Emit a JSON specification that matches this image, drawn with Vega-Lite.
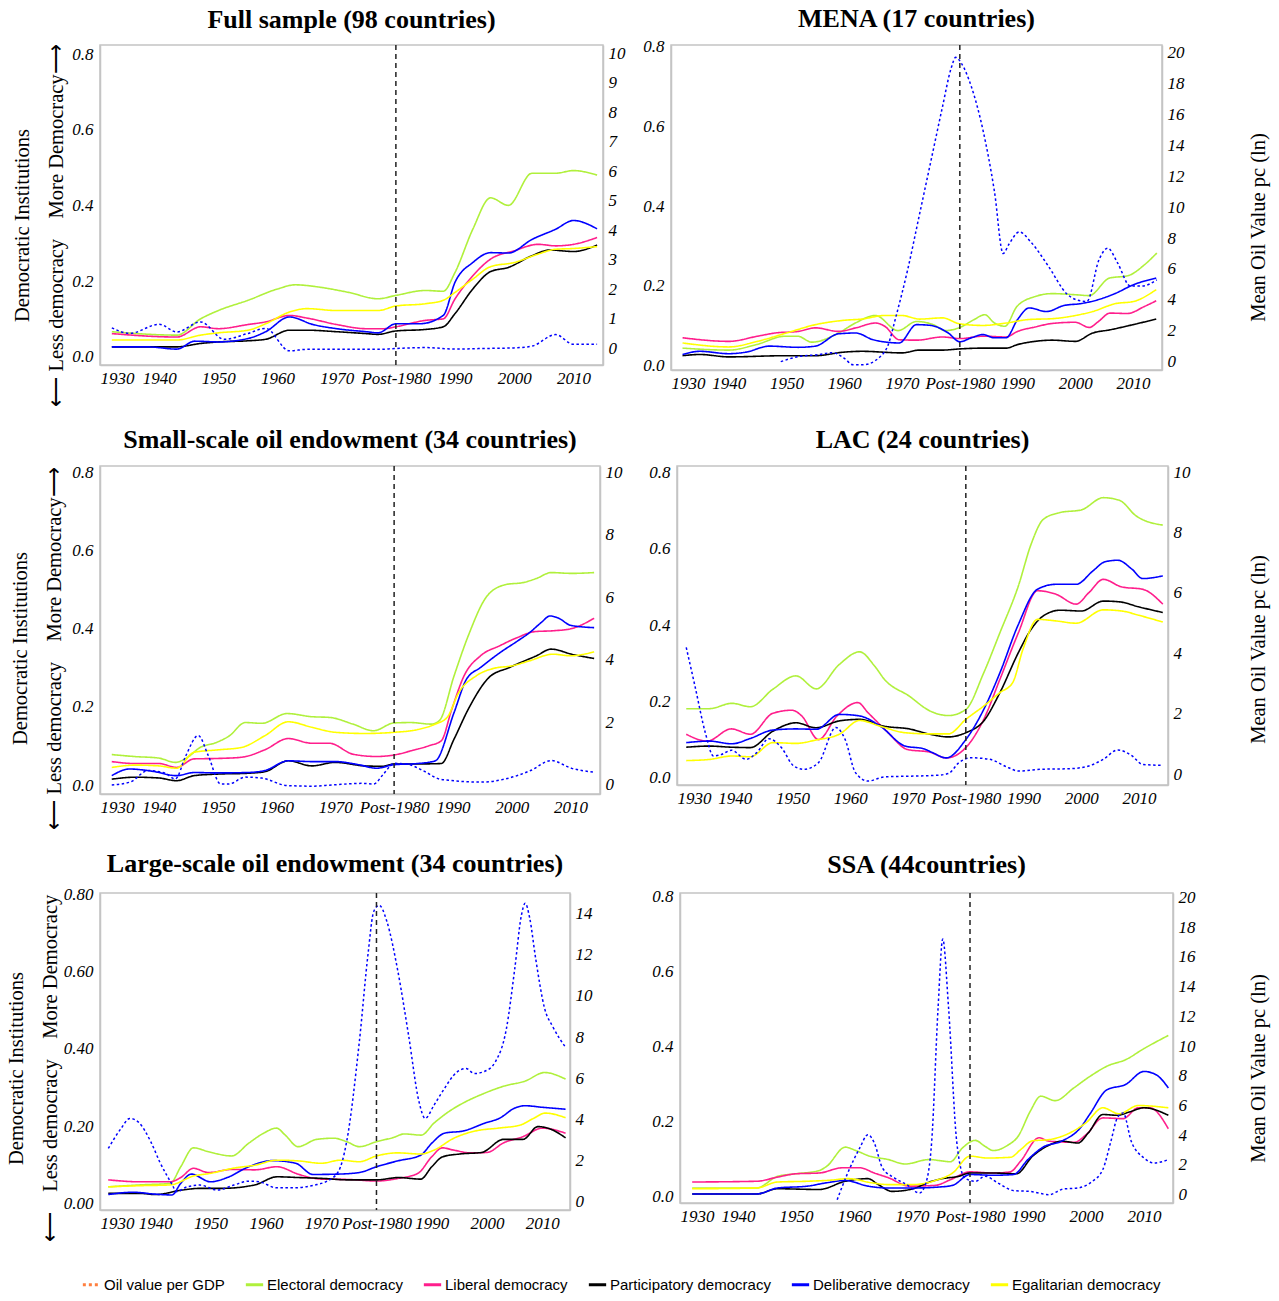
{
"$schema": "https://vega.github.io/schema/vega-lite/v6.json",
"padding": {"top": 5, "left": 5, "right": 5, "bottom": 0},
"background": "white",
"config": {
 "view": {"stroke": "#c4c4c4", "strokeWidth": 1.5},
 "axis": {"grid": false, "domainColor": "#c4c4c4", "domainWidth": 1.5, "ticks": false, "labelPadding": 7, "labelFont": "Liberation Serif", "labelFontStyle": "italic", "labelFontSize": 17, "labelColor": "#000", "titleFont": "Liberation Serif", "titleFontWeight": "normal", "titleFontSize": 20.5, "titleColor": "#000"},
 "title": {"font": "Liberation Serif", "fontSize": 26, "fontWeight": "bold", "color": "#000", "offset": 10, "frame": "group"},
 "legend": {"labelFont": "Liberation Sans Narrow, Arial Narrow, Liberation Sans, sans-serif", "labelFontSize": 15, "labelColor": "#000", "labelLimit": 0, "symbolType": "stroke", "symbolStrokeWidth": 3, "symbolSize": 300, "columnPadding": 14, "labelOffset": 2, "padding": 0}
},
"datasets": {
"full": [
{"s":"El","t":1932,"v":0.066},{"s":"El","t":1943,"v":0.057},{"s":"El","t":1947,"v":0.1},{"s":"El","t":1950,"v":0.122},{"s":"El","t":1955,"v":0.149},{"s":"El","t":1960,"v":0.179},{"s":"El","t":1963,"v":0.19},{"s":"El","t":1967,"v":0.184},{"s":"El","t":1972,"v":0.17},{"s":"El","t":1977,"v":0.153},{"s":"El","t":1980,"v":0.162},{"s":"El","t":1985,"v":0.175},{"s":"El","t":1988,"v":0.173},{"s":"El","t":1990,"v":0.223},{"s":"El","t":1993,"v":0.337},{"s":"El","t":1996,"v":0.42},{"s":"El","t":1999,"v":0.4},{"s":"El","t":2003,"v":0.485},{"s":"El","t":2007,"v":0.485},{"s":"El","t":2010,"v":0.492},{"s":"El","t":2014,"v":0.48},
{"s":"Li","t":1932,"v":0.061},{"s":"Li","t":1943,"v":0.052},{"s":"Li","t":1947,"v":0.079},{"s":"Li","t":1950,"v":0.074},{"s":"Li","t":1955,"v":0.085},{"s":"Li","t":1958,"v":0.092},{"s":"Li","t":1962,"v":0.109},{"s":"Li","t":1965,"v":0.102},{"s":"Li","t":1970,"v":0.085},{"s":"Li","t":1975,"v":0.074},{"s":"Li","t":1978,"v":0.074},{"s":"Li","t":1980,"v":0.079},{"s":"Li","t":1985,"v":0.096},{"s":"Li","t":1988,"v":0.1},{"s":"Li","t":1990,"v":0.153},{"s":"Li","t":1993,"v":0.214},{"s":"Li","t":1996,"v":0.258},{"s":"Li","t":2000,"v":0.28},{"s":"Li","t":2004,"v":0.297},{"s":"Li","t":2007,"v":0.293},{"s":"Li","t":2010,"v":0.297},{"s":"Li","t":2014,"v":0.315},
{"s":"Pa","t":1932,"v":0.026},{"s":"Pa","t":1943,"v":0.026},{"s":"Pa","t":1947,"v":0.035},{"s":"Pa","t":1950,"v":0.039},{"s":"Pa","t":1955,"v":0.042},{"s":"Pa","t":1958,"v":0.046},{"s":"Pa","t":1962,"v":0.07},{"s":"Pa","t":1965,"v":0.07},{"s":"Pa","t":1970,"v":0.066},{"s":"Pa","t":1975,"v":0.061},{"s":"Pa","t":1977,"v":0.059},{"s":"Pa","t":1980,"v":0.068},{"s":"Pa","t":1985,"v":0.072},{"s":"Pa","t":1988,"v":0.079},{"s":"Pa","t":1990,"v":0.114},{"s":"Pa","t":1993,"v":0.179},{"s":"Pa","t":1996,"v":0.225},{"s":"Pa","t":1999,"v":0.236},{"s":"Pa","t":2003,"v":0.267},{"s":"Pa","t":2006,"v":0.282},{"s":"Pa","t":2010,"v":0.278},{"s":"Pa","t":2014,"v":0.295},
{"s":"De","t":1932,"v":0.026},{"s":"De","t":1938,"v":0.026},{"s":"De","t":1943,"v":0.02},{"s":"De","t":1946,"v":0.041},{"s":"De","t":1950,"v":0.039},{"s":"De","t":1955,"v":0.048},{"s":"De","t":1958,"v":0.066},{"s":"De","t":1962,"v":0.105},{"s":"De","t":1966,"v":0.085},{"s":"De","t":1970,"v":0.074},{"s":"De","t":1975,"v":0.066},{"s":"De","t":1977,"v":0.063},{"s":"De","t":1980,"v":0.087},{"s":"De","t":1984,"v":0.087},{"s":"De","t":1988,"v":0.109},{"s":"De","t":1990,"v":0.197},{"s":"De","t":1993,"v":0.249},{"s":"De","t":1996,"v":0.275},{"s":"De","t":1999,"v":0.274},{"s":"De","t":2003,"v":0.31},{"s":"De","t":2007,"v":0.337},{"s":"De","t":2010,"v":0.36},{"s":"De","t":2014,"v":0.338},
{"s":"Eg","t":1932,"v":0.044},{"s":"Eg","t":1943,"v":0.044},{"s":"Eg","t":1947,"v":0.057},{"s":"Eg","t":1950,"v":0.063},{"s":"Eg","t":1955,"v":0.07},{"s":"Eg","t":1958,"v":0.087},{"s":"Eg","t":1962,"v":0.118},{"s":"Eg","t":1965,"v":0.127},{"s":"Eg","t":1970,"v":0.122},{"s":"Eg","t":1977,"v":0.122},{"s":"Eg","t":1980,"v":0.134},{"s":"Eg","t":1985,"v":0.14},{"s":"Eg","t":1988,"v":0.149},{"s":"Eg","t":1990,"v":0.17},{"s":"Eg","t":1993,"v":0.205},{"s":"Eg","t":1996,"v":0.238},{"s":"Eg","t":2000,"v":0.249},{"s":"Eg","t":2004,"v":0.271},{"s":"Eg","t":2007,"v":0.284},{"s":"Eg","t":2010,"v":0.286},{"s":"Eg","t":2014,"v":0.291},
{"s":"Oil","t":1932,"v":0.7},{"s":"Oil","t":1935,"v":0.51},{"s":"Oil","t":1940,"v":0.82},{"s":"Oil","t":1943,"v":0.56},{"s":"Oil","t":1947,"v":0.9},{"s":"Oil","t":1951,"v":0.31},{"s":"Oil","t":1955,"v":0.51},{"s":"Oil","t":1958,"v":0.68},{"s":"Oil","t":1962,"v":-0.08},{"s":"Oil","t":1965,"v":-0.03},{"s":"Oil","t":1970,"v":-0.03},{"s":"Oil","t":1977,"v":-0.03},{"s":"Oil","t":1980,"v":0.0},{"s":"Oil","t":1985,"v":0.03},{"s":"Oil","t":1990,"v":-0.02},{"s":"Oil","t":1995,"v":0.0},{"s":"Oil","t":2000,"v":0.02},{"s":"Oil","t":2003,"v":0.08},{"s":"Oil","t":2007,"v":0.47},{"s":"Oil","t":2010,"v":0.14},{"s":"Oil","t":2014,"v":0.14}
],
"mena": [
{"s":"El","t":1932,"v":0.043},{"s":"El","t":1940,"v":0.038},{"s":"El","t":1944.8,"v":0.052},{"s":"El","t":1949.8,"v":0.073},{"s":"El","t":1951.9,"v":0.073},{"s":"El","t":1954.4,"v":0.058},{"s":"El","t":1959,"v":0.081},{"s":"El","t":1961.9,"v":0.106},{"s":"El","t":1965.4,"v":0.125},{"s":"El","t":1969.3,"v":0.087},{"s":"El","t":1972.5,"v":0.11},{"s":"El","t":1975.4,"v":0.102},{"s":"El","t":1977.5,"v":0.087},{"s":"El","t":1980,"v":0.095},{"s":"El","t":1982.5,"v":0.115},{"s":"El","t":1984.3,"v":0.127},{"s":"El","t":1986,"v":0.106},{"s":"El","t":1987.8,"v":0.098},{"s":"El","t":1989.9,"v":0.148},{"s":"El","t":1993.1,"v":0.173},{"s":"El","t":1996,"v":0.18},{"s":"El","t":2000.2,"v":0.177},{"s":"El","t":2002.4,"v":0.175},{"s":"El","t":2005.9,"v":0.219},{"s":"El","t":2009.1,"v":0.225},{"s":"El","t":2012,"v":0.253},{"s":"El","t":2014.1,"v":0.282},
{"s":"Li","t":1932,"v":0.069},{"s":"Li","t":1940,"v":0.06},{"s":"Li","t":1945,"v":0.073},{"s":"Li","t":1948,"v":0.081},{"s":"Li","t":1952,"v":0.085},{"s":"Li","t":1955,"v":0.094},{"s":"Li","t":1959,"v":0.085},{"s":"Li","t":1962,"v":0.094},{"s":"Li","t":1965.4,"v":0.106},{"s":"Li","t":1967,"v":0.098},{"s":"Li","t":1969.5,"v":0.064},{"s":"Li","t":1972.5,"v":0.063},{"s":"Li","t":1977,"v":0.071},{"s":"Li","t":1980,"v":0.067},{"s":"Li","t":1984,"v":0.073},{"s":"Li","t":1988,"v":0.071},{"s":"Li","t":1990,"v":0.085},{"s":"Li","t":1993,"v":0.096},{"s":"Li","t":1996,"v":0.105},{"s":"Li","t":2000,"v":0.108},{"s":"Li","t":2002.4,"v":0.095},{"s":"Li","t":2004,"v":0.11},{"s":"Li","t":2006,"v":0.131},{"s":"Li","t":2009,"v":0.13},{"s":"Li","t":2012,"v":0.148},{"s":"Li","t":2014,"v":0.162},
{"s":"Pa","t":1932,"v":0.024},{"s":"Pa","t":1935,"v":0.027},{"s":"Pa","t":1940,"v":0.021},{"s":"Pa","t":1950,"v":0.024},{"s":"Pa","t":1955,"v":0.024},{"s":"Pa","t":1960,"v":0.033},{"s":"Pa","t":1963,"v":0.035},{"s":"Pa","t":1970,"v":0.031},{"s":"Pa","t":1973,"v":0.038},{"s":"Pa","t":1977,"v":0.038},{"s":"Pa","t":1980,"v":0.041},{"s":"Pa","t":1984,"v":0.043},{"s":"Pa","t":1988,"v":0.043},{"s":"Pa","t":1990,"v":0.052},{"s":"Pa","t":1993,"v":0.06},{"s":"Pa","t":1996,"v":0.063},{"s":"Pa","t":2000,"v":0.06},{"s":"Pa","t":2003,"v":0.081},{"s":"Pa","t":2006,"v":0.089},{"s":"Pa","t":2010,"v":0.102},{"s":"Pa","t":2014,"v":0.116},
{"s":"De","t":1932,"v":0.027},{"s":"De","t":1935,"v":0.035},{"s":"De","t":1940,"v":0.029},{"s":"De","t":1943,"v":0.033},{"s":"De","t":1947,"v":0.048},{"s":"De","t":1952,"v":0.045},{"s":"De","t":1955,"v":0.048},{"s":"De","t":1959,"v":0.079},{"s":"De","t":1962,"v":0.081},{"s":"De","t":1965,"v":0.064},{"s":"De","t":1969.5,"v":0.056},{"s":"De","t":1972.5,"v":0.102},{"s":"De","t":1975,"v":0.1},{"s":"De","t":1978,"v":0.081},{"s":"De","t":1980,"v":0.059},{"s":"De","t":1982,"v":0.069},{"s":"De","t":1984,"v":0.077},{"s":"De","t":1986,"v":0.069},{"s":"De","t":1988,"v":0.069},{"s":"De","t":1990,"v":0.115},{"s":"De","t":1992,"v":0.144},{"s":"De","t":1995,"v":0.135},{"s":"De","t":1998,"v":0.15},{"s":"De","t":2001,"v":0.155},{"s":"De","t":2004,"v":0.165},{"s":"De","t":2007,"v":0.181},{"s":"De","t":2010,"v":0.202},{"s":"De","t":2014,"v":0.219},
{"s":"Eg","t":1932,"v":0.056},{"s":"Eg","t":1940,"v":0.046},{"s":"Eg","t":1945,"v":0.06},{"s":"Eg","t":1950,"v":0.081},{"s":"Eg","t":1955,"v":0.102},{"s":"Eg","t":1960,"v":0.113},{"s":"Eg","t":1963,"v":0.116},{"s":"Eg","t":1967,"v":0.125},{"s":"Eg","t":1970,"v":0.125},{"s":"Eg","t":1973,"v":0.116},{"s":"Eg","t":1977,"v":0.119},{"s":"Eg","t":1980,"v":0.104},{"s":"Eg","t":1984,"v":0.1},{"s":"Eg","t":1988,"v":0.106},{"s":"Eg","t":1992,"v":0.115},{"s":"Eg","t":1996,"v":0.117},{"s":"Eg","t":2000,"v":0.125},{"s":"Eg","t":2003,"v":0.135},{"s":"Eg","t":2007,"v":0.155},{"s":"Eg","t":2010,"v":0.16},{"s":"Eg","t":2014,"v":0.19},
{"s":"Oil","t":1949,"v":0.0},{"s":"Oil","t":1952.7,"v":0.37},{"s":"Oil","t":1955,"v":0.43},{"s":"Oil","t":1958,"v":0.58},{"s":"Oil","t":1960,"v":0.22},{"s":"Oil","t":1961.5,"v":-0.2},{"s":"Oil","t":1963.3,"v":-0.2},{"s":"Oil","t":1966.2,"v":0.32},{"s":"Oil","t":1967.5,"v":1.0},{"s":"Oil","t":1969,"v":3.0},{"s":"Oil","t":1971,"v":6.0},{"s":"Oil","t":1973,"v":9.5},{"s":"Oil","t":1975,"v":13.0},{"s":"Oil","t":1977,"v":16.5},{"s":"Oil","t":1978.5,"v":19.0},{"s":"Oil","t":1979.3,"v":19.7},{"s":"Oil","t":1980.3,"v":19.3},{"s":"Oil","t":1982,"v":17.8},{"s":"Oil","t":1984,"v":15.0},{"s":"Oil","t":1986,"v":11.0},{"s":"Oil","t":1987.5,"v":7.0},{"s":"Oil","t":1988.5,"v":7.6},{"s":"Oil","t":1990.3,"v":8.4},{"s":"Oil","t":1992.4,"v":7.7},{"s":"Oil","t":1995.3,"v":6.2},{"s":"Oil","t":1998.5,"v":4.4},{"s":"Oil","t":2000.2,"v":4.0},{"s":"Oil","t":2002,"v":3.9},{"s":"Oil","t":2004.1,"v":6.6},{"s":"Oil","t":2005.6,"v":7.35},{"s":"Oil","t":2007.3,"v":6.4},{"s":"Oil","t":2009.5,"v":4.9},{"s":"Oil","t":2011.6,"v":4.9},{"s":"Oil","t":2014.1,"v":5.3}
],
"small": [
{"s":"El","t":1932,"v":0.078},{"s":"El","t":1935.8,"v":0.073},{"s":"El","t":1940,"v":0.069},{"s":"El","t":1942.8,"v":0.058},{"s":"El","t":1944.9,"v":0.071},{"s":"El","t":1947,"v":0.096},{"s":"El","t":1949.8,"v":0.109},{"s":"El","t":1952,"v":0.126},{"s":"El","t":1954.7,"v":0.16},{"s":"El","t":1957.5,"v":0.158},{"s":"El","t":1961.8,"v":0.183},{"s":"El","t":1966,"v":0.175},{"s":"El","t":1969.1,"v":0.173},{"s":"El","t":1973,"v":0.156},{"s":"El","t":1976.5,"v":0.139},{"s":"El","t":1980,"v":0.159},{"s":"El","t":1982.8,"v":0.16},{"s":"El","t":1986.3,"v":0.156},{"s":"El","t":1987.7,"v":0.165},{"s":"El","t":1990.2,"v":0.28},{"s":"El","t":1992.6,"v":0.382},{"s":"El","t":1995.8,"v":0.484},{"s":"El","t":1998.9,"v":0.513},{"s":"El","t":2002.1,"v":0.519},{"s":"El","t":2004.2,"v":0.529},{"s":"El","t":2006.7,"v":0.544},{"s":"El","t":2010.2,"v":0.542},{"s":"El","t":2014,"v":0.544},
{"s":"Li","t":1932,"v":0.06},{"s":"Li","t":1936,"v":0.055},{"s":"Li","t":1940,"v":0.055},{"s":"Li","t":1943,"v":0.045},{"s":"Li","t":1946,"v":0.067},{"s":"Li","t":1950,"v":0.068},{"s":"Li","t":1954,"v":0.071},{"s":"Li","t":1958,"v":0.09},{"s":"Li","t":1962,"v":0.119},{"s":"Li","t":1966,"v":0.107},{"s":"Li","t":1969,"v":0.107},{"s":"Li","t":1973,"v":0.079},{"s":"Li","t":1977,"v":0.073},{"s":"Li","t":1980,"v":0.077},{"s":"Li","t":1983,"v":0.088},{"s":"Li","t":1986,"v":0.101},{"s":"Li","t":1988,"v":0.113},{"s":"Li","t":1989.8,"v":0.194},{"s":"Li","t":1991.9,"v":0.28},{"s":"Li","t":1994.7,"v":0.331},{"s":"Li","t":1998,"v":0.357},{"s":"Li","t":2001,"v":0.378},{"s":"Li","t":2004,"v":0.393},{"s":"Li","t":2007,"v":0.395},{"s":"Li","t":2010,"v":0.4},{"s":"Li","t":2014,"v":0.427},
{"s":"Pa","t":1932,"v":0.015},{"s":"Pa","t":1936,"v":0.02},{"s":"Pa","t":1940,"v":0.018},{"s":"Pa","t":1943,"v":0.011},{"s":"Pa","t":1946,"v":0.024},{"s":"Pa","t":1950,"v":0.028},{"s":"Pa","t":1955,"v":0.03},{"s":"Pa","t":1958,"v":0.034},{"s":"Pa","t":1962,"v":0.062},{"s":"Pa","t":1966,"v":0.049},{"s":"Pa","t":1970,"v":0.058},{"s":"Pa","t":1975,"v":0.049},{"s":"Pa","t":1978,"v":0.048},{"s":"Pa","t":1980,"v":0.054},{"s":"Pa","t":1984,"v":0.054},{"s":"Pa","t":1988,"v":0.055},{"s":"Pa","t":1990.2,"v":0.118},{"s":"Pa","t":1992.6,"v":0.194},{"s":"Pa","t":1996.1,"v":0.275},{"s":"Pa","t":1999.6,"v":0.301},{"s":"Pa","t":2004.2,"v":0.331},{"s":"Pa","t":2006.7,"v":0.348},{"s":"Pa","t":2010.2,"v":0.335},{"s":"Pa","t":2014,"v":0.324},
{"s":"De","t":1932,"v":0.024},{"s":"De","t":1935,"v":0.041},{"s":"De","t":1939,"v":0.035},{"s":"De","t":1943,"v":0.024},{"s":"De","t":1946,"v":0.032},{"s":"De","t":1950,"v":0.031},{"s":"De","t":1955,"v":0.032},{"s":"De","t":1958,"v":0.037},{"s":"De","t":1962,"v":0.062},{"s":"De","t":1966,"v":0.06},{"s":"De","t":1970,"v":0.06},{"s":"De","t":1974,"v":0.052},{"s":"De","t":1977,"v":0.043},{"s":"De","t":1980,"v":0.052},{"s":"De","t":1984,"v":0.055},{"s":"De","t":1987,"v":0.062},{"s":"De","t":1990.2,"v":0.186},{"s":"De","t":1992.3,"v":0.271},{"s":"De","t":1994.7,"v":0.301},{"s":"De","t":1998,"v":0.339},{"s":"De","t":2001,"v":0.369},{"s":"De","t":2003,"v":0.39},{"s":"De","t":2005,"v":0.416},{"s":"De","t":2006.5,"v":0.433},{"s":"De","t":2008,"v":0.427},{"s":"De","t":2010,"v":0.409},{"s":"De","t":2014,"v":0.403},
{"s":"Eg","t":1932,"v":0.045},{"s":"Eg","t":1936,"v":0.051},{"s":"Eg","t":1940,"v":0.049},{"s":"Eg","t":1943,"v":0.043},{"s":"Eg","t":1946,"v":0.084},{"s":"Eg","t":1950,"v":0.09},{"s":"Eg","t":1954,"v":0.096},{"s":"Eg","t":1958,"v":0.126},{"s":"Eg","t":1962,"v":0.162},{"s":"Eg","t":1966,"v":0.148},{"s":"Eg","t":1970,"v":0.135},{"s":"Eg","t":1975,"v":0.132},{"s":"Eg","t":1980,"v":0.135},{"s":"Eg","t":1984,"v":0.142},{"s":"Eg","t":1987,"v":0.156},{"s":"Eg","t":1989,"v":0.173},{"s":"Eg","t":1991,"v":0.237},{"s":"Eg","t":1994,"v":0.28},{"s":"Eg","t":1997,"v":0.299},{"s":"Eg","t":2000,"v":0.305},{"s":"Eg","t":2003,"v":0.318},{"s":"Eg","t":2007,"v":0.335},{"s":"Eg","t":2010,"v":0.331},{"s":"Eg","t":2014,"v":0.341},
{"s":"Oil","t":1932,"v":0.0},{"s":"Oil","t":1935.1,"v":0.09},{"s":"Oil","t":1938.2,"v":0.46},{"s":"Oil","t":1941.1,"v":0.37},{"s":"Oil","t":1942.8,"v":0.19},{"s":"Oil","t":1944.6,"v":0.94},{"s":"Oil","t":1946.7,"v":1.58},{"s":"Oil","t":1948.4,"v":0.94},{"s":"Oil","t":1950.5,"v":0.03},{"s":"Oil","t":1951.9,"v":0.03},{"s":"Oil","t":1954.7,"v":0.25},{"s":"Oil","t":1957.5,"v":0.22},{"s":"Oil","t":1961.8,"v":-0.02},{"s":"Oil","t":1966,"v":-0.04},{"s":"Oil","t":1969.5,"v":0.0},{"s":"Oil","t":1974.4,"v":0.05},{"s":"Oil","t":1976.5,"v":0.03},{"s":"Oil","t":1978.2,"v":0.35},{"s":"Oil","t":1980,"v":0.69},{"s":"Oil","t":1982.1,"v":0.67},{"s":"Oil","t":1984.9,"v":0.46},{"s":"Oil","t":1987.7,"v":0.19},{"s":"Oil","t":1989.8,"v":0.14},{"s":"Oil","t":1994.7,"v":0.09},{"s":"Oil","t":1998.9,"v":0.19},{"s":"Oil","t":2003.2,"v":0.46},{"s":"Oil","t":2006.7,"v":0.78},{"s":"Oil","t":2010.2,"v":0.53},{"s":"Oil","t":2014,"v":0.41}
],
"lac": [
{"s":"El","t":1931.6,"v":0.181},{"s":"El","t":1935.6,"v":0.181},{"s":"El","t":1939.5,"v":0.195},{"s":"El","t":1942.7,"v":0.186},{"s":"El","t":1946.6,"v":0.232},{"s":"El","t":1950.6,"v":0.267},{"s":"El","t":1954.1,"v":0.233},{"s":"El","t":1958.1,"v":0.297},{"s":"El","t":1961.6,"v":0.33},{"s":"El","t":1964.2,"v":0.293},{"s":"El","t":1965.9,"v":0.258},{"s":"El","t":1970.2,"v":0.214},{"s":"El","t":1973.8,"v":0.175},{"s":"El","t":1977,"v":0.163},{"s":"El","t":1980,"v":0.179},{"s":"El","t":1983.1,"v":0.275},{"s":"El","t":1985.9,"v":0.38},{"s":"El","t":1989.1,"v":0.503},{"s":"El","t":1991.3,"v":0.612},{"s":"El","t":1993.4,"v":0.677},{"s":"El","t":1996.3,"v":0.695},{"s":"El","t":2000,"v":0.702},{"s":"El","t":2003.8,"v":0.734},{"s":"El","t":2006.6,"v":0.727},{"s":"El","t":2009.5,"v":0.686},{"s":"El","t":2014.1,"v":0.662},
{"s":"Li","t":1931.6,"v":0.114},{"s":"Li","t":1935.2,"v":0.096},{"s":"Li","t":1939.4,"v":0.128},{"s":"Li","t":1942.7,"v":0.114},{"s":"Li","t":1946.6,"v":0.169},{"s":"Li","t":1949.9,"v":0.177},{"s":"Li","t":1951.6,"v":0.162},{"s":"Li","t":1954.5,"v":0.1},{"s":"Li","t":1957.7,"v":0.162},{"s":"Li","t":1961.3,"v":0.197},{"s":"Li","t":1963.1,"v":0.17},{"s":"Li","t":1966.3,"v":0.122},{"s":"Li","t":1969.9,"v":0.074},{"s":"Li","t":1973.8,"v":0.067},{"s":"Li","t":1976.6,"v":0.052},{"s":"Li","t":1980,"v":0.079},{"s":"Li","t":1983.1,"v":0.153},{"s":"Li","t":1985.9,"v":0.258},{"s":"Li","t":1989.1,"v":0.38},{"s":"Li","t":1992.4,"v":0.49},{"s":"Li","t":1995.6,"v":0.481},{"s":"Li","t":1999.1,"v":0.455},{"s":"Li","t":2001.3,"v":0.485},{"s":"Li","t":2003.8,"v":0.52},{"s":"Li","t":2007,"v":0.5},{"s":"Li","t":2010.6,"v":0.494},{"s":"Li","t":2014.1,"v":0.455},
{"s":"Pa","t":1931.6,"v":0.08},{"s":"Pa","t":1935.6,"v":0.083},{"s":"Pa","t":1939.5,"v":0.08},{"s":"Pa","t":1942.7,"v":0.079},{"s":"Pa","t":1946.6,"v":0.122},{"s":"Pa","t":1950.6,"v":0.144},{"s":"Pa","t":1954.1,"v":0.131},{"s":"Pa","t":1958.1,"v":0.149},{"s":"Pa","t":1961.6,"v":0.153},{"s":"Pa","t":1965.9,"v":0.135},{"s":"Pa","t":1970.2,"v":0.128},{"s":"Pa","t":1973.8,"v":0.114},{"s":"Pa","t":1977,"v":0.107},{"s":"Pa","t":1980,"v":0.118},{"s":"Pa","t":1983.1,"v":0.149},{"s":"Pa","t":1985.9,"v":0.223},{"s":"Pa","t":1989.1,"v":0.328},{"s":"Pa","t":1991.3,"v":0.389},{"s":"Pa","t":1993.4,"v":0.424},{"s":"Pa","t":1996.3,"v":0.439},{"s":"Pa","t":2000,"v":0.437},{"s":"Pa","t":2003.8,"v":0.463},{"s":"Pa","t":2006.6,"v":0.461},{"s":"Pa","t":2009.9,"v":0.448},{"s":"Pa","t":2014.1,"v":0.433},
{"s":"De","t":1931.6,"v":0.092},{"s":"De","t":1935.6,"v":0.096},{"s":"De","t":1939.5,"v":0.089},{"s":"De","t":1942.7,"v":0.103},{"s":"De","t":1946.6,"v":0.125},{"s":"De","t":1950.6,"v":0.128},{"s":"De","t":1954.1,"v":0.127},{"s":"De","t":1958.1,"v":0.166},{"s":"De","t":1961.6,"v":0.162},{"s":"De","t":1965.2,"v":0.135},{"s":"De","t":1969.5,"v":0.083},{"s":"De","t":1972.7,"v":0.076},{"s":"De","t":1974.2,"v":0.066},{"s":"De","t":1976.6,"v":0.052},{"s":"De","t":1980,"v":0.1},{"s":"De","t":1983.1,"v":0.179},{"s":"De","t":1985.9,"v":0.275},{"s":"De","t":1989.1,"v":0.402},{"s":"De","t":1992.4,"v":0.494},{"s":"De","t":1995.6,"v":0.507},{"s":"De","t":1999.1,"v":0.507},{"s":"De","t":2002,"v":0.542},{"s":"De","t":2004.1,"v":0.566},{"s":"De","t":2006.3,"v":0.57},{"s":"De","t":2008.8,"v":0.546},{"s":"De","t":2010.6,"v":0.522},{"s":"De","t":2014.1,"v":0.529},
{"s":"Eg","t":1931.6,"v":0.045},{"s":"Eg","t":1935.6,"v":0.048},{"s":"Eg","t":1939.5,"v":0.057},{"s":"Eg","t":1942.7,"v":0.055},{"s":"Eg","t":1946.6,"v":0.092},{"s":"Eg","t":1950.6,"v":0.09},{"s":"Eg","t":1954.1,"v":0.099},{"s":"Eg","t":1958.1,"v":0.114},{"s":"Eg","t":1961.6,"v":0.15},{"s":"Eg","t":1965.2,"v":0.135},{"s":"Eg","t":1969.5,"v":0.118},{"s":"Eg","t":1973.8,"v":0.115},{"s":"Eg","t":1977,"v":0.115},{"s":"Eg","t":1980,"v":0.153},{"s":"Eg","t":1983.1,"v":0.188},{"s":"Eg","t":1985.9,"v":0.223},{"s":"Eg","t":1988.1,"v":0.249},{"s":"Eg","t":1989.9,"v":0.337},{"s":"Eg","t":1992.4,"v":0.415},{"s":"Eg","t":1995.6,"v":0.411},{"s":"Eg","t":1999.1,"v":0.405},{"s":"Eg","t":2003.8,"v":0.44},{"s":"Eg","t":2007,"v":0.437},{"s":"Eg","t":2009.9,"v":0.426},{"s":"Eg","t":2014.1,"v":0.408},
{"s":"Oil","t":1931.6,"v":4.2},{"s":"Oil","t":1933.1,"v":2.93},{"s":"Oil","t":1934.9,"v":1.38},{"s":"Oil","t":1936.3,"v":0.61},{"s":"Oil","t":1937.7,"v":0.66},{"s":"Oil","t":1939.4,"v":0.8},{"s":"Oil","t":1942,"v":0.5},{"s":"Oil","t":1943.8,"v":0.72},{"s":"Oil","t":1945.9,"v":1.18},{"s":"Oil","t":1948.1,"v":0.88},{"s":"Oil","t":1950.2,"v":0.28},{"s":"Oil","t":1952,"v":0.17},{"s":"Oil","t":1954.5,"v":0.39},{"s":"Oil","t":1957.5,"v":1.55},{"s":"Oil","t":1959.1,"v":1.16},{"s":"Oil","t":1960.9,"v":0.06},{"s":"Oil","t":1963.1,"v":-0.22},{"s":"Oil","t":1965.9,"v":-0.08},{"s":"Oil","t":1969.9,"v":-0.06},{"s":"Oil","t":1974.9,"v":-0.03},{"s":"Oil","t":1977,"v":0.03},{"s":"Oil","t":1978.8,"v":0.39},{"s":"Oil","t":1980.9,"v":0.55},{"s":"Oil","t":1984.1,"v":0.5},{"s":"Oil","t":1987.4,"v":0.22},{"s":"Oil","t":1989.1,"v":0.11},{"s":"Oil","t":1993.1,"v":0.17},{"s":"Oil","t":1998.1,"v":0.19},{"s":"Oil","t":2001.3,"v":0.28},{"s":"Oil","t":2003.8,"v":0.5},{"s":"Oil","t":2006.3,"v":0.81},{"s":"Oil","t":2008.8,"v":0.61},{"s":"Oil","t":2010.6,"v":0.33},{"s":"Oil","t":2014.1,"v":0.3}
],
"large": [
{"s":"El","t":1931.5,"v":0.043},{"s":"El","t":1937.3,"v":0.048},{"s":"El","t":1942.7,"v":0.052},{"s":"El","t":1944.6,"v":0.095},{"s":"El","t":1946.9,"v":0.144},{"s":"El","t":1949.6,"v":0.134},{"s":"El","t":1953.8,"v":0.123},{"s":"El","t":1956.9,"v":0.156},{"s":"El","t":1959.6,"v":0.182},{"s":"El","t":1961.9,"v":0.195},{"s":"El","t":1963.5,"v":0.177},{"s":"El","t":1965.8,"v":0.147},{"s":"El","t":1969.2,"v":0.166},{"s":"El","t":1972.3,"v":0.169},{"s":"El","t":1974.6,"v":0.16},{"s":"El","t":1976.9,"v":0.147},{"s":"El","t":1980,"v":0.16},{"s":"El","t":1983.1,"v":0.171},{"s":"El","t":1985,"v":0.18},{"s":"El","t":1988.1,"v":0.177},{"s":"El","t":1990.4,"v":0.208},{"s":"El","t":1993.1,"v":0.238},{"s":"El","t":1995.8,"v":0.261},{"s":"El","t":1998.8,"v":0.281},{"s":"El","t":2003.1,"v":0.304},{"s":"El","t":2006.9,"v":0.317},{"s":"El","t":2010.4,"v":0.339},{"s":"El","t":2014.2,"v":0.322},
{"s":"Li","t":1931.5,"v":0.061},{"s":"Li","t":1937.3,"v":0.056},{"s":"Li","t":1942.7,"v":0.056},{"s":"Li","t":1944.6,"v":0.067},{"s":"Li","t":1946.9,"v":0.091},{"s":"Li","t":1949.6,"v":0.08},{"s":"Li","t":1953.8,"v":0.088},{"s":"Li","t":1958,"v":0.087},{"s":"Li","t":1962,"v":0.095},{"s":"Li","t":1966,"v":0.075},{"s":"Li","t":1970,"v":0.063},{"s":"Li","t":1975,"v":0.062},{"s":"Li","t":1980,"v":0.058},{"s":"Li","t":1984,"v":0.065},{"s":"Li","t":1987.5,"v":0.078},{"s":"Li","t":1990,"v":0.121},{"s":"Li","t":1991.9,"v":0.144},{"s":"Li","t":1994,"v":0.138},{"s":"Li","t":1997,"v":0.131},{"s":"Li","t":2000,"v":0.132},{"s":"Li","t":2003,"v":0.157},{"s":"Li","t":2006.5,"v":0.173},{"s":"Li","t":2010,"v":0.195},{"s":"Li","t":2014.2,"v":0.182},
{"s":"Pa","t":1931.5,"v":0.026},{"s":"Pa","t":1937.3,"v":0.026},{"s":"Pa","t":1940,"v":0.023},{"s":"Pa","t":1945,"v":0.035},{"s":"Pa","t":1948,"v":0.039},{"s":"Pa","t":1952,"v":0.039},{"s":"Pa","t":1958,"v":0.048},{"s":"Pa","t":1962,"v":0.069},{"s":"Pa","t":1966,"v":0.067},{"s":"Pa","t":1970,"v":0.065},{"s":"Pa","t":1975,"v":0.061},{"s":"Pa","t":1980,"v":0.061},{"s":"Pa","t":1984,"v":0.067},{"s":"Pa","t":1988,"v":0.063},{"s":"Pa","t":1990,"v":0.095},{"s":"Pa","t":1992,"v":0.121},{"s":"Pa","t":1995,"v":0.128},{"s":"Pa","t":1999,"v":0.132},{"s":"Pa","t":2003,"v":0.166},{"s":"Pa","t":2006.5,"v":0.166},{"s":"Pa","t":2009.2,"v":0.199},{"s":"Pa","t":2011,"v":0.195},{"s":"Pa","t":2014.2,"v":0.17},
{"s":"De","t":1931.5,"v":0.023},{"s":"De","t":1936,"v":0.029},{"s":"De","t":1940,"v":0.024},{"s":"De","t":1943,"v":0.022},{"s":"De","t":1944.6,"v":0.052},{"s":"De","t":1946.5,"v":0.076},{"s":"De","t":1950,"v":0.056},{"s":"De","t":1953,"v":0.067},{"s":"De","t":1956.9,"v":0.095},{"s":"De","t":1961.2,"v":0.111},{"s":"De","t":1965.4,"v":0.104},{"s":"De","t":1968.5,"v":0.075},{"s":"De","t":1973.1,"v":0.076},{"s":"De","t":1976.9,"v":0.08},{"s":"De","t":1980,"v":0.095},{"s":"De","t":1983.8,"v":0.11},{"s":"De","t":1988,"v":0.125},{"s":"De","t":1990,"v":0.156},{"s":"De","t":1992.3,"v":0.182},{"s":"De","t":1995.8,"v":0.188},{"s":"De","t":1999.6,"v":0.208},{"s":"De","t":2002.3,"v":0.221},{"s":"De","t":2005,"v":0.247},{"s":"De","t":2006.9,"v":0.253},{"s":"De","t":2010,"v":0.249},{"s":"De","t":2014.2,"v":0.244},
{"s":"Eg","t":1931.5,"v":0.043},{"s":"Eg","t":1937.3,"v":0.046},{"s":"Eg","t":1942.7,"v":0.048},{"s":"Eg","t":1946.9,"v":0.071},{"s":"Eg","t":1950,"v":0.078},{"s":"Eg","t":1954,"v":0.091},{"s":"Eg","t":1958,"v":0.099},{"s":"Eg","t":1962,"v":0.112},{"s":"Eg","t":1966,"v":0.11},{"s":"Eg","t":1970,"v":0.104},{"s":"Eg","t":1973.5,"v":0.112},{"s":"Eg","t":1976.9,"v":0.108},{"s":"Eg","t":1980,"v":0.123},{"s":"Eg","t":1983.8,"v":0.131},{"s":"Eg","t":1988,"v":0.128},{"s":"Eg","t":1990.4,"v":0.138},{"s":"Eg","t":1994,"v":0.169},{"s":"Eg","t":1998,"v":0.188},{"s":"Eg","t":2002,"v":0.195},{"s":"Eg","t":2006,"v":0.203},{"s":"Eg","t":2008.5,"v":0.221},{"s":"Eg","t":2010.5,"v":0.234},{"s":"Eg","t":2014.2,"v":0.222},
{"s":"Oil","t":1931.5,"v":2.59},{"s":"Oil","t":1933.8,"v":3.56},{"s":"Oil","t":1935.4,"v":4.05},{"s":"Oil","t":1936.9,"v":3.88},{"s":"Oil","t":1939.2,"v":2.91},{"s":"Oil","t":1940.8,"v":1.94},{"s":"Oil","t":1943.1,"v":0.81},{"s":"Oil","t":1943.8,"v":0.49},{"s":"Oil","t":1945.8,"v":0.73},{"s":"Oil","t":1948.1,"v":0.81},{"s":"Oil","t":1951.2,"v":0.57},{"s":"Oil","t":1954.2,"v":0.81},{"s":"Oil","t":1956.9,"v":1.0},{"s":"Oil","t":1958.8,"v":0.97},{"s":"Oil","t":1961.9,"v":0.68},{"s":"Oil","t":1965,"v":0.68},{"s":"Oil","t":1968.8,"v":0.81},{"s":"Oil","t":1970.8,"v":0.97},{"s":"Oil","t":1973.1,"v":1.46},{"s":"Oil","t":1974.6,"v":2.91},{"s":"Oil","t":1976.9,"v":7.77},{"s":"Oil","t":1978.5,"v":12.1},{"s":"Oil","t":1979.5,"v":14.1},{"s":"Oil","t":1980.5,"v":14.4},{"s":"Oil","t":1981.9,"v":13.6},{"s":"Oil","t":1983.8,"v":11.3},{"s":"Oil","t":1985.8,"v":8.1},{"s":"Oil","t":1987.7,"v":4.85},{"s":"Oil","t":1988.8,"v":4.05},{"s":"Oil","t":1990.4,"v":4.69},{"s":"Oil","t":1991.9,"v":5.34},{"s":"Oil","t":1994.6,"v":6.31},{"s":"Oil","t":1996.2,"v":6.47},{"s":"Oil","t":1997.7,"v":6.23},{"s":"Oil","t":1999.6,"v":6.34},{"s":"Oil","t":2001.5,"v":6.8},{"s":"Oil","t":2003.5,"v":8.41},{"s":"Oil","t":2005,"v":11.3},{"s":"Oil","t":2006.2,"v":13.9},{"s":"Oil","t":2006.9,"v":14.5},{"s":"Oil","t":2007.7,"v":13.8},{"s":"Oil","t":2008.8,"v":11.8},{"s":"Oil","t":2010.4,"v":9.4},{"s":"Oil","t":2011.9,"v":8.5},{"s":"Oil","t":2014.2,"v":7.5}
],
"ssa": [
{"s":"El","t":1932.1,"v":0.022},{"s":"El","t":1943.2,"v":0.022},{"s":"El","t":1946.8,"v":0.053},{"s":"El","t":1950,"v":0.06},{"s":"El","t":1953.9,"v":0.068},{"s":"El","t":1955.3,"v":0.08},{"s":"El","t":1958.5,"v":0.131},{"s":"El","t":1960.3,"v":0.122},{"s":"El","t":1962.7,"v":0.107},{"s":"El","t":1965.9,"v":0.098},{"s":"El","t":1968.8,"v":0.086},{"s":"El","t":1973,"v":0.098},{"s":"El","t":1974.8,"v":0.095},{"s":"El","t":1976.6,"v":0.092},{"s":"El","t":1978.7,"v":0.129},{"s":"El","t":1980.9,"v":0.149},{"s":"El","t":1982.6,"v":0.133},{"s":"El","t":1984,"v":0.122},{"s":"El","t":1986.5,"v":0.136},{"s":"El","t":1988.3,"v":0.16},{"s":"El","t":1990.4,"v":0.227},{"s":"El","t":1992.2,"v":0.267},{"s":"El","t":1994.7,"v":0.255},{"s":"El","t":1997.9,"v":0.289},{"s":"El","t":2000.7,"v":0.32},{"s":"El","t":2003.9,"v":0.349},{"s":"El","t":2006.8,"v":0.364},{"s":"El","t":2010,"v":0.394},{"s":"El","t":2014.2,"v":0.429},
{"s":"Li","t":1932.1,"v":0.038},{"s":"Li","t":1943.2,"v":0.04},{"s":"Li","t":1946.8,"v":0.051},{"s":"Li","t":1950,"v":0.06},{"s":"Li","t":1954,"v":0.062},{"s":"Li","t":1958,"v":0.076},{"s":"Li","t":1961,"v":0.076},{"s":"Li","t":1963.5,"v":0.062},{"s":"Li","t":1966,"v":0.049},{"s":"Li","t":1969.5,"v":0.027},{"s":"Li","t":1974,"v":0.029},{"s":"Li","t":1976.6,"v":0.044},{"s":"Li","t":1980,"v":0.065},{"s":"Li","t":1984,"v":0.062},{"s":"Li","t":1986.9,"v":0.065},{"s":"Li","t":1988.7,"v":0.093},{"s":"Li","t":1991.9,"v":0.156},{"s":"Li","t":1993.6,"v":0.147},{"s":"Li","t":1998,"v":0.144},{"s":"Li","t":2000,"v":0.164},{"s":"Li","t":2002.9,"v":0.209},{"s":"Li","t":2006.4,"v":0.207},{"s":"Li","t":2009,"v":0.236},{"s":"Li","t":2011,"v":0.236},{"s":"Li","t":2014.2,"v":0.18},
{"s":"Pa","t":1932.1,"v":0.006},{"s":"Pa","t":1943.2,"v":0.006},{"s":"Pa","t":1946.8,"v":0.02},{"s":"Pa","t":1954,"v":0.018},{"s":"Pa","t":1958.5,"v":0.04},{"s":"Pa","t":1962.4,"v":0.047},{"s":"Pa","t":1964.2,"v":0.031},{"s":"Pa","t":1966.6,"v":0.013},{"s":"Pa","t":1970.2,"v":0.02},{"s":"Pa","t":1973,"v":0.038},{"s":"Pa","t":1975.2,"v":0.047},{"s":"Pa","t":1978,"v":0.053},{"s":"Pa","t":1980,"v":0.062},{"s":"Pa","t":1984,"v":0.062},{"s":"Pa","t":1988,"v":0.06},{"s":"Pa","t":1990.8,"v":0.107},{"s":"Pa","t":1993.6,"v":0.136},{"s":"Pa","t":1995.8,"v":0.147},{"s":"Pa","t":1998.6,"v":0.142},{"s":"Pa","t":2000.4,"v":0.169},{"s":"Pa","t":2002.9,"v":0.218},{"s":"Pa","t":2005.4,"v":0.216},{"s":"Pa","t":2007.5,"v":0.225},{"s":"Pa","t":2010,"v":0.236},{"s":"Pa","t":2014.2,"v":0.216},
{"s":"De","t":1932.1,"v":0.006},{"s":"De","t":1943.2,"v":0.006},{"s":"De","t":1946.8,"v":0.022},{"s":"De","t":1952,"v":0.027},{"s":"De","t":1955.3,"v":0.036},{"s":"De","t":1958.5,"v":0.042},{"s":"De","t":1962.4,"v":0.027},{"s":"De","t":1966,"v":0.022},{"s":"De","t":1970,"v":0.022},{"s":"De","t":1975,"v":0.025},{"s":"De","t":1977,"v":0.029},{"s":"De","t":1980,"v":0.058},{"s":"De","t":1984,"v":0.056},{"s":"De","t":1987.5,"v":0.058},{"s":"De","t":1990,"v":0.098},{"s":"De","t":1992.6,"v":0.131},{"s":"De","t":1995.8,"v":0.147},{"s":"De","t":1999,"v":0.182},{"s":"De","t":2000.7,"v":0.22},{"s":"De","t":2003.6,"v":0.284},{"s":"De","t":2006.8,"v":0.298},{"s":"De","t":2010,"v":0.333},{"s":"De","t":2012.1,"v":0.324},{"s":"De","t":2014.2,"v":0.289},
{"s":"Eg","t":1932.1,"v":0.02},{"s":"Eg","t":1943.2,"v":0.022},{"s":"Eg","t":1946.8,"v":0.038},{"s":"Eg","t":1952,"v":0.04},{"s":"Eg","t":1956,"v":0.043},{"s":"Eg","t":1959,"v":0.047},{"s":"Eg","t":1963,"v":0.036},{"s":"Eg","t":1966,"v":0.031},{"s":"Eg","t":1970,"v":0.031},{"s":"Eg","t":1974,"v":0.042},{"s":"Eg","t":1977,"v":0.062},{"s":"Eg","t":1980,"v":0.107},{"s":"Eg","t":1983,"v":0.102},{"s":"Eg","t":1987,"v":0.104},{"s":"Eg","t":1988.7,"v":0.124},{"s":"Eg","t":1990.8,"v":0.148},{"s":"Eg","t":1993.6,"v":0.151},{"s":"Eg","t":1996.5,"v":0.164},{"s":"Eg","t":2000,"v":0.196},{"s":"Eg","t":2002.9,"v":0.236},{"s":"Eg","t":2005.7,"v":0.22},{"s":"Eg","t":2009,"v":0.242},{"s":"Eg","t":2014.2,"v":0.236},
{"s":"Oil","t":1957.1,"v":-0.34},{"s":"Oil","t":1958.8,"v":1.35},{"s":"Oil","t":1961,"v":3.15},{"s":"Oil","t":1962.4,"v":4.04},{"s":"Oil","t":1963.5,"v":3.48},{"s":"Oil","t":1964.9,"v":1.8},{"s":"Oil","t":1967,"v":1.12},{"s":"Oil","t":1969.1,"v":0.67},{"s":"Oil","t":1971.3,"v":0.11},{"s":"Oil","t":1972.3,"v":0.67},{"s":"Oil","t":1973.4,"v":3.6},{"s":"Oil","t":1974.5,"v":12.6},{"s":"Oil","t":1975.3,"v":17.2},{"s":"Oil","t":1976.3,"v":12.6},{"s":"Oil","t":1977.7,"v":3.6},{"s":"Oil","t":1979.1,"v":1.12},{"s":"Oil","t":1980.9,"v":0.9},{"s":"Oil","t":1982.6,"v":1.24},{"s":"Oil","t":1984.8,"v":0.79},{"s":"Oil","t":1987.6,"v":0.27},{"s":"Oil","t":1990.4,"v":0.22},{"s":"Oil","t":1993.6,"v":0.0},{"s":"Oil","t":1996.1,"v":0.38},{"s":"Oil","t":1998.6,"v":0.45},{"s":"Oil","t":2001.1,"v":0.9},{"s":"Oil","t":2002.9,"v":1.69},{"s":"Oil","t":2004.3,"v":3.6},{"s":"Oil","t":2005.4,"v":5.17},{"s":"Oil","t":2006.4,"v":5.5},{"s":"Oil","t":2007.8,"v":3.6},{"s":"Oil","t":2010,"v":2.47},{"s":"Oil","t":2011.7,"v":2.13},{"s":"Oil","t":2014.2,"v":2.36}
]
},
"spacing": 19,
"vconcat": [
{"spacing": 16, "hconcat": [
 {"title": {"text": "Full sample (98 countries)", "offset": 11}, "width": 503, "height": 320, "data": {"name": "full"}, "resolve": {"scale": {"y": "independent"}},
  "layer": [
   {"transform": [{"filter": "datum.s != 'Oil'"}], "mark": {"type": "line", "interpolate": "monotone", "strokeWidth": 1.6},
    "encoding": {
     "x": {"field": "t", "type": "quantitative", "scale": {"domain": [1930, 2015], "nice": false, "zero": false}, "axis": {"title": null, "values": [1930,1940,1950,1960,1970,1980,1990,2000,2010], "format": "d", "labelExpr": "datum.value == 1980 ? 'Post-1980' : datum.label", "labelFlush": true, "labelOverlap": false, "labelFontStyle": "italic", "labelPadding": 5}},
     "y": {"field": "v", "type": "quantitative", "scale": {"domain": [-0.022, 0.824], "nice": false, "zero": false}, "axis": {"values": [0,0.2,0.4,0.6,0.8], "format": ".1f", "labelFontStyle": "italic", "title": ["Democratic Institutions", "⟵\u00a0Less democracy\u00a0\u00a0\u00a0\u00a0More Democracy⟶"], "titleLineHeight": 34, "titlePadding": 5, "titleY": 180}},
     "color": {"field": "s", "type": "nominal", "scale": {"domain": ["Oil","El","Li","Pa","De","Eg"], "range": ["#ff7f3f","#b0f03c","#ff1e8c","#000000","#0000ff","#ffff00"]}, "legend": {"title": null, "orient": "none", "legendX": -19, "legendY": 1229, "direction": "horizontal", "columns": 6, "labelExpr": "datum.label == 'Oil' ? 'Oil value per GDP' : datum.label == 'El' ? 'Electoral democracy' : datum.label == 'Li' ? 'Liberal democracy' : datum.label == 'Pa' ? 'Participatory democracy' : datum.label == 'De' ? 'Deliberative democracy' : 'Egalitarian democracy'"}},
     "strokeDash": {"field": "s", "type": "nominal", "scale": {"domain": ["Oil","El","Li","Pa","De","Eg"], "range": [[3,3],[1,0],[1,0],[1,0],[1,0],[1,0]]}, "legend": {"title": null, "orient": "none", "legendX": -19, "legendY": 1229, "direction": "horizontal", "columns": 6, "labelExpr": "datum.label == 'Oil' ? 'Oil value per GDP' : datum.label == 'El' ? 'Electoral democracy' : datum.label == 'Li' ? 'Liberal democracy' : datum.label == 'Pa' ? 'Participatory democracy' : datum.label == 'De' ? 'Deliberative democracy' : 'Egalitarian democracy'"}}
    }},
   {"transform": [{"filter": "datum.s == 'Oil'"}], "mark": {"type": "line", "interpolate": "monotone", "strokeWidth": 1.5, "color": "#0000ff", "strokeDash": [2.5, 2.5]},
    "encoding": {
     "x": {"field": "t", "type": "quantitative"},
     "y": {"field": "v", "type": "quantitative", "scale": {"domain": [-0.56, 10.28], "nice": false, "zero": false}, "axis": {"orient": "right", "values": [0,1,2,3,4,5,6,7,8,9,10], "format": "d", "labelFontStyle": "italic", "labelPadding": 5, "title": null}}
    }},
   {"data": {"values": [{"t": 1980}]}, "mark": {"type": "rule", "color": "#222222", "strokeDash": [5, 4], "strokeWidth": 1.5}, "encoding": {"x": {"field": "t", "type": "quantitative"}}}
  ]},
 {"title": {"text": "MENA (17 countries)", "offset": 6}, "width": 491, "height": 325, "data": {"name": "mena"}, "resolve": {"scale": {"y": "independent"}},
  "layer": [
   {"transform": [{"filter": "datum.s != 'Oil'"}], "mark": {"type": "line", "interpolate": "monotone", "strokeWidth": 1.6},
    "encoding": {
     "x": {"field": "t", "type": "quantitative", "scale": {"domain": [1930, 2015], "nice": false, "zero": false}, "axis": {"title": null, "values": [1930,1940,1950,1960,1970,1980,1990,2000,2010], "format": "d", "labelExpr": "datum.value == 1980 ? 'Post-1980' : datum.label", "labelFlush": true, "labelOverlap": false, "labelFontStyle": "italic", "labelPadding": 5}},
     "y": {"field": "v", "type": "quantitative", "scale": {"domain": [-0.012, 0.805], "nice": false, "zero": false}, "axis": {"values": [0,0.2,0.4,0.6,0.8], "format": ".1f", "labelFontStyle": "italic", "title": null}},
     "color": {"field": "s", "type": "nominal", "scale": {"domain": ["Oil","El","Li","Pa","De","Eg"], "range": ["#ff7f3f","#b0f03c","#ff1e8c","#000000","#0000ff","#ffff00"]}, "legend": {"title": null, "orient": "none", "legendX": -19, "legendY": 1229, "direction": "horizontal", "columns": 6, "labelExpr": "datum.label == 'Oil' ? 'Oil value per GDP' : datum.label == 'El' ? 'Electoral democracy' : datum.label == 'Li' ? 'Liberal democracy' : datum.label == 'Pa' ? 'Participatory democracy' : datum.label == 'De' ? 'Deliberative democracy' : 'Egalitarian democracy'"}},
     "strokeDash": {"field": "s", "type": "nominal", "scale": {"domain": ["Oil","El","Li","Pa","De","Eg"], "range": [[3,3],[1,0],[1,0],[1,0],[1,0],[1,0]]}, "legend": {"title": null, "orient": "none", "legendX": -19, "legendY": 1229, "direction": "horizontal", "columns": 6, "labelExpr": "datum.label == 'Oil' ? 'Oil value per GDP' : datum.label == 'El' ? 'Electoral democracy' : datum.label == 'Li' ? 'Liberal democracy' : datum.label == 'Pa' ? 'Participatory democracy' : datum.label == 'De' ? 'Deliberative democracy' : 'Egalitarian democracy'"}}
    }},
   {"transform": [{"filter": "datum.s == 'Oil'"}], "mark": {"type": "line", "interpolate": "monotone", "strokeWidth": 1.5, "color": "#0000ff", "strokeDash": [2.5, 2.5]},
    "encoding": {
     "x": {"field": "t", "type": "quantitative"},
     "y": {"field": "v", "type": "quantitative", "scale": {"domain": [-0.54, 20.5], "nice": false, "zero": false}, "axis": {"orient": "right", "values": [0,2,4,6,8,10,12,14,16,18,20], "format": "d", "labelFontStyle": "italic", "labelPadding": 5, "title": "Mean Oil Value pc (ln)", "titleAngle": 270, "titleBaseline": "top", "titlePadding": 64, "titleY": 182}}
    }},
   {"data": {"values": [{"t": 1980}]}, "mark": {"type": "rule", "color": "#222222", "strokeDash": [5, 4], "strokeWidth": 1.5}, "encoding": {"x": {"field": "t", "type": "quantitative"}}}
  ]}
]},
{"spacing": 25, "hconcat": [
 {"title": {"text": "Small-scale oil endowment (34 countries)", "offset": 10}, "width": 500, "height": 328, "data": {"name": "small"}, "resolve": {"scale": {"y": "independent"}},
  "layer": [
   {"transform": [{"filter": "datum.s != 'Oil'"}], "mark": {"type": "line", "interpolate": "monotone", "strokeWidth": 1.6},
    "encoding": {
     "x": {"field": "t", "type": "quantitative", "scale": {"domain": [1930, 2015], "nice": false, "zero": false}, "axis": {"title": null, "values": [1930,1940,1950,1960,1970,1980,1990,2000,2010], "format": "d", "labelExpr": "datum.value == 1980 ? 'Post-1980' : datum.label", "labelFlush": true, "labelOverlap": false, "labelFontStyle": "italic", "labelPadding": 5}},
     "y": {"field": "v", "type": "quantitative", "scale": {"domain": [-0.023, 0.817], "nice": false, "zero": false}, "axis": {"values": [0,0.2,0.4,0.6,0.8], "format": ".1f", "labelFontStyle": "italic", "title": ["Democratic Institutions", "⟵\u00a0Less democracy\u00a0\u00a0\u00a0\u00a0More Democracy⟶"], "titleLineHeight": 34, "titlePadding": 7, "titleY": 182}},
     "color": {"field": "s", "type": "nominal", "scale": {"domain": ["Oil","El","Li","Pa","De","Eg"], "range": ["#ff7f3f","#b0f03c","#ff1e8c","#000000","#0000ff","#ffff00"]}, "legend": {"title": null, "orient": "none", "legendX": -19, "legendY": 1229, "direction": "horizontal", "columns": 6, "labelExpr": "datum.label == 'Oil' ? 'Oil value per GDP' : datum.label == 'El' ? 'Electoral democracy' : datum.label == 'Li' ? 'Liberal democracy' : datum.label == 'Pa' ? 'Participatory democracy' : datum.label == 'De' ? 'Deliberative democracy' : 'Egalitarian democracy'"}},
     "strokeDash": {"field": "s", "type": "nominal", "scale": {"domain": ["Oil","El","Li","Pa","De","Eg"], "range": [[3,3],[1,0],[1,0],[1,0],[1,0],[1,0]]}, "legend": {"title": null, "orient": "none", "legendX": -19, "legendY": 1229, "direction": "horizontal", "columns": 6, "labelExpr": "datum.label == 'Oil' ? 'Oil value per GDP' : datum.label == 'El' ? 'Electoral democracy' : datum.label == 'Li' ? 'Liberal democracy' : datum.label == 'Pa' ? 'Participatory democracy' : datum.label == 'De' ? 'Deliberative democracy' : 'Egalitarian democracy'"}}
    }},
   {"transform": [{"filter": "datum.s == 'Oil'"}], "mark": {"type": "line", "interpolate": "monotone", "strokeWidth": 1.5, "color": "#0000ff", "strokeDash": [2.5, 2.5]},
    "encoding": {
     "x": {"field": "t", "type": "quantitative"},
     "y": {"field": "v", "type": "quantitative", "scale": {"domain": [-0.29, 10.2], "nice": false, "zero": false}, "axis": {"orient": "right", "values": [0,2,4,6,8,10], "format": "d", "labelFontStyle": "italic", "labelPadding": 5, "title": null}}
    }},
   {"data": {"values": [{"t": 1980}]}, "mark": {"type": "rule", "color": "#222222", "strokeDash": [5, 4], "strokeWidth": 1.5}, "encoding": {"x": {"field": "t", "type": "quantitative"}}}
  ]},
 {"title": {"text": "LAC (24 countries)", "offset": 10}, "width": 491, "height": 319, "data": {"name": "lac"}, "resolve": {"scale": {"y": "independent"}},
  "layer": [
   {"transform": [{"filter": "datum.s != 'Oil'"}], "mark": {"type": "line", "interpolate": "monotone", "strokeWidth": 1.6},
    "encoding": {
     "x": {"field": "t", "type": "quantitative", "scale": {"domain": [1930, 2015], "nice": false, "zero": false}, "axis": {"title": null, "values": [1930,1940,1950,1960,1970,1980,1990,2000,2010], "format": "d", "labelExpr": "datum.value == 1980 ? 'Post-1980' : datum.label", "labelFlush": true, "labelOverlap": false, "labelFontStyle": "italic", "labelPadding": 5}},
     "y": {"field": "v", "type": "quantitative", "scale": {"domain": [-0.019, 0.817], "nice": false, "zero": false}, "axis": {"values": [0,0.2,0.4,0.6,0.8], "format": ".1f", "labelFontStyle": "italic", "title": null}},
     "color": {"field": "s", "type": "nominal", "scale": {"domain": ["Oil","El","Li","Pa","De","Eg"], "range": ["#ff7f3f","#b0f03c","#ff1e8c","#000000","#0000ff","#ffff00"]}, "legend": {"title": null, "orient": "none", "legendX": -19, "legendY": 1229, "direction": "horizontal", "columns": 6, "labelExpr": "datum.label == 'Oil' ? 'Oil value per GDP' : datum.label == 'El' ? 'Electoral democracy' : datum.label == 'Li' ? 'Liberal democracy' : datum.label == 'Pa' ? 'Participatory democracy' : datum.label == 'De' ? 'Deliberative democracy' : 'Egalitarian democracy'"}},
     "strokeDash": {"field": "s", "type": "nominal", "scale": {"domain": ["Oil","El","Li","Pa","De","Eg"], "range": [[3,3],[1,0],[1,0],[1,0],[1,0],[1,0]]}, "legend": {"title": null, "orient": "none", "legendX": -19, "legendY": 1229, "direction": "horizontal", "columns": 6, "labelExpr": "datum.label == 'Oil' ? 'Oil value per GDP' : datum.label == 'El' ? 'Electoral democracy' : datum.label == 'Li' ? 'Liberal democracy' : datum.label == 'Pa' ? 'Participatory democracy' : datum.label == 'De' ? 'Deliberative democracy' : 'Egalitarian democracy'"}}
    }},
   {"transform": [{"filter": "datum.s == 'Oil'"}], "mark": {"type": "line", "interpolate": "monotone", "strokeWidth": 1.5, "color": "#0000ff", "strokeDash": [2.5, 2.5]},
    "encoding": {
     "x": {"field": "t", "type": "quantitative"},
     "y": {"field": "v", "type": "quantitative", "scale": {"domain": [-0.35, 10.2], "nice": false, "zero": false}, "axis": {"orient": "right", "values": [0,2,4,6,8,10], "format": "d", "labelFontStyle": "italic", "labelPadding": 5, "title": "Mean Oil Value pc (ln)", "titleAngle": 270, "titleBaseline": "top", "titlePadding": 58, "titleY": 183}}
    }},
   {"data": {"values": [{"t": 1980}]}, "mark": {"type": "rule", "color": "#222222", "strokeDash": [5, 4], "strokeWidth": 1.5}, "encoding": {"x": {"field": "t", "type": "quantitative"}}}
  ]}
]},
{"spacing": 58, "hconcat": [
 {"title": {"text": "Large-scale oil endowment (34 countries)", "offset": 9}, "width": 470, "height": 317, "data": {"name": "large"}, "resolve": {"scale": {"y": "independent"}},
  "layer": [
   {"transform": [{"filter": "datum.s != 'Oil'"}], "mark": {"type": "line", "interpolate": "monotone", "strokeWidth": 1.6},
    "encoding": {
     "x": {"field": "t", "type": "quantitative", "scale": {"domain": [1930, 2015], "nice": false, "zero": false}, "axis": {"title": null, "values": [1930,1940,1950,1960,1970,1980,1990,2000,2010], "format": "d", "labelExpr": "datum.value == 1980 ? 'Post-1980' : datum.label", "labelFlush": true, "labelOverlap": false, "labelFontStyle": "italic", "labelPadding": 5}},
     "y": {"field": "v", "type": "quantitative", "scale": {"domain": [-0.017, 0.804], "nice": false, "zero": false}, "axis": {"values": [0,0.2,0.4,0.6,0.8], "format": ".2f", "labelFontStyle": "italic", "title": ["Democratic Institutions", "⟵\u00a0\u00a0\u00a0\u00a0Less democracy\u00a0\u00a0\u00a0\u00a0More Democracy"], "titleLineHeight": 34, "titlePadding": 3, "titleY": 175}},
     "color": {"field": "s", "type": "nominal", "scale": {"domain": ["Oil","El","Li","Pa","De","Eg"], "range": ["#ff7f3f","#b0f03c","#ff1e8c","#000000","#0000ff","#ffff00"]}, "legend": {"title": null, "orient": "none", "legendX": -19, "legendY": 1229, "direction": "horizontal", "columns": 6, "labelExpr": "datum.label == 'Oil' ? 'Oil value per GDP' : datum.label == 'El' ? 'Electoral democracy' : datum.label == 'Li' ? 'Liberal democracy' : datum.label == 'Pa' ? 'Participatory democracy' : datum.label == 'De' ? 'Deliberative democracy' : 'Egalitarian democracy'"}},
     "strokeDash": {"field": "s", "type": "nominal", "scale": {"domain": ["Oil","El","Li","Pa","De","Eg"], "range": [[3,3],[1,0],[1,0],[1,0],[1,0],[1,0]]}, "legend": {"title": null, "orient": "none", "legendX": -19, "legendY": 1229, "direction": "horizontal", "columns": 6, "labelExpr": "datum.label == 'Oil' ? 'Oil value per GDP' : datum.label == 'El' ? 'Electoral democracy' : datum.label == 'Li' ? 'Liberal democracy' : datum.label == 'Pa' ? 'Participatory democracy' : datum.label == 'De' ? 'Deliberative democracy' : 'Egalitarian democracy'"}}
    }},
   {"transform": [{"filter": "datum.s == 'Oil'"}], "mark": {"type": "line", "interpolate": "monotone", "strokeWidth": 1.5, "color": "#0000ff", "strokeDash": [2.5, 2.5]},
    "encoding": {
     "x": {"field": "t", "type": "quantitative"},
     "y": {"field": "v", "type": "quantitative", "scale": {"domain": [-0.4, 15.0], "nice": false, "zero": false}, "axis": {"orient": "right", "values": [0,2,4,6,8,10,12,14], "format": "d", "labelFontStyle": "italic", "labelPadding": 5, "title": null}}
    }},
   {"data": {"values": [{"t": 1980}]}, "mark": {"type": "rule", "color": "#222222", "strokeDash": [5, 4], "strokeWidth": 1.5}, "encoding": {"x": {"field": "t", "type": "quantitative"}}}
  ]},
 {"title": {"text": "SSA (44countries)", "offset": 9}, "width": 493, "height": 310, "data": {"name": "ssa"}, "resolve": {"scale": {"y": "independent"}},
  "layer": [
   {"transform": [{"filter": "datum.s != 'Oil'"}], "mark": {"type": "line", "interpolate": "monotone", "strokeWidth": 1.6},
    "encoding": {
     "x": {"field": "t", "type": "quantitative", "scale": {"domain": [1930, 2015], "nice": false, "zero": false}, "axis": {"title": null, "values": [1930,1940,1950,1960,1970,1980,1990,2000,2010], "format": "d", "labelExpr": "datum.value == 1980 ? 'Post-1980' : datum.label", "labelFlush": true, "labelOverlap": false, "labelFontStyle": "italic", "labelPadding": 5}},
     "y": {"field": "v", "type": "quantitative", "scale": {"domain": [-0.018, 0.809], "nice": false, "zero": false}, "axis": {"values": [0,0.2,0.4,0.6,0.8], "format": ".1f", "labelFontStyle": "italic", "title": null}},
     "color": {"field": "s", "type": "nominal", "scale": {"domain": ["Oil","El","Li","Pa","De","Eg"], "range": ["#ff7f3f","#b0f03c","#ff1e8c","#000000","#0000ff","#ffff00"]}, "legend": {"title": null, "orient": "none", "legendX": -19, "legendY": 1229, "direction": "horizontal", "columns": 6, "labelExpr": "datum.label == 'Oil' ? 'Oil value per GDP' : datum.label == 'El' ? 'Electoral democracy' : datum.label == 'Li' ? 'Liberal democracy' : datum.label == 'Pa' ? 'Participatory democracy' : datum.label == 'De' ? 'Deliberative democracy' : 'Egalitarian democracy'"}},
     "strokeDash": {"field": "s", "type": "nominal", "scale": {"domain": ["Oil","El","Li","Pa","De","Eg"], "range": [[3,3],[1,0],[1,0],[1,0],[1,0],[1,0]]}, "legend": {"title": null, "orient": "none", "legendX": -19, "legendY": 1229, "direction": "horizontal", "columns": 6, "labelExpr": "datum.label == 'Oil' ? 'Oil value per GDP' : datum.label == 'El' ? 'Electoral democracy' : datum.label == 'Li' ? 'Liberal democracy' : datum.label == 'Pa' ? 'Participatory democracy' : datum.label == 'De' ? 'Deliberative democracy' : 'Egalitarian democracy'"}}
    }},
   {"transform": [{"filter": "datum.s == 'Oil'"}], "mark": {"type": "line", "interpolate": "monotone", "strokeWidth": 1.5, "color": "#0000ff", "strokeDash": [2.5, 2.5]},
    "encoding": {
     "x": {"field": "t", "type": "quantitative"},
     "y": {"field": "v", "type": "quantitative", "scale": {"domain": [-0.56, 20.3], "nice": false, "zero": false}, "axis": {"orient": "right", "values": [0,2,4,6,8,10,12,14,16,18,20], "format": "d", "labelFontStyle": "italic", "labelPadding": 5, "title": "Mean Oil Value pc (ln)", "titleAngle": 270, "titleBaseline": "top", "titlePadding": 53, "titleY": 175}}
    }},
   {"data": {"values": [{"t": 1980}]}, "mark": {"type": "rule", "color": "#222222", "strokeDash": [5, 4], "strokeWidth": 1.5}, "encoding": {"x": {"field": "t", "type": "quantitative"}}}
  ]}
]}
]
}
